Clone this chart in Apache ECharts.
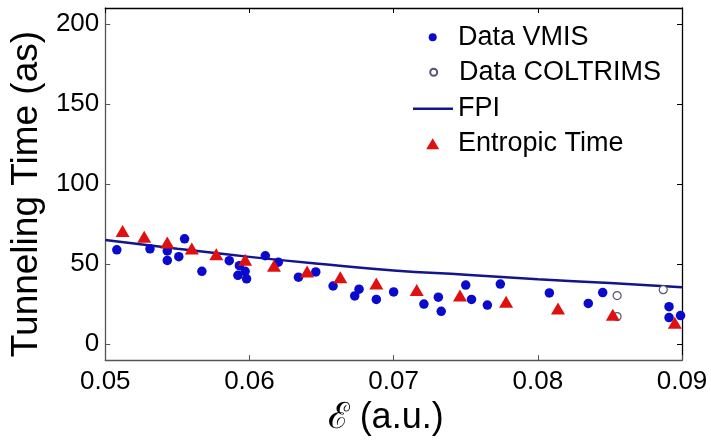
<!DOCTYPE html>
<html>
<head>
<meta charset="utf-8">
<script src="https://cdn.jsdelivr.net/npm/echarts@6.0.0/dist/echarts.min.js"></script>
<style>
  html, body { margin: 0; padding: 0; background: #fff; }
  #chart { width: 711px; height: 441px; }
</style>
</head>
<body>
<div id="chart"></div>
<script>
// field strength (a.u.) vs tunneling time (as)
const vmisX = [0.0508, 0.0531, 0.0543, 0.0543, 0.0551, 0.0555, 0.0567, 0.0586, 0.0593, 0.0592, 0.0597, 0.0598,
  0.0611, 0.0620, 0.0634, 0.0646, 0.0658, 0.0673, 0.0676, 0.0688, 0.0700, 0.0721, 0.0731, 0.0733,
  0.0750, 0.0754, 0.0765, 0.0774, 0.0808, 0.0835, 0.0845, 0.0891, 0.0891, 0.0899];
const vmisY = [58.9, 59.5, 58.2, 52.3, 54.6, 65.8, 45.5, 52.1, 49.0, 43.0, 45.5, 40.8,
  55.2, 51.2, 41.8, 45.1, 36.3, 30.1, 34.3, 27.9, 32.6, 25.0, 29.3, 20.5,
  36.9, 27.9, 24.4, 37.5, 32.0, 25.4, 32.2, 23.4, 16.6, 17.8];

const coltX = [0.0855, 0.0855, 0.0887];
const coltY = [30.3, 17.2, 34.0];

const fpiX = [0.050, 0.055, 0.060, 0.065, 0.070, 0.075, 0.080, 0.085, 0.090];
const fpiY = [65.0, 59.6, 54.5, 50.0, 46.0, 43.3, 40.5, 38.2, 35.5];

const entX = [0.0512, 0.0527, 0.0543, 0.0560, 0.0577, 0.0597, 0.0617, 0.0640,
  0.0663, 0.0688, 0.0716, 0.0746, 0.0778, 0.0814, 0.0852, 0.0895];
const entY = [70.7, 67.0, 63.5, 59.7, 56.1, 52.7, 49.0, 45.3,
  41.8, 37.9, 33.8, 30.3, 26.4, 22.3, 18.3, 13.3];

const xTicks = [0.05, 0.06, 0.07, 0.08, 0.09];
const yTicks = [0, 50, 100, 150, 200];

const font = "'Liberation Sans', Arial, sans-serif";
const zip = (xs, ys) => xs.map((x, i) => [x, ys[i]]);

// one legend per row so every icon can have its own size; text starts at x=458
function legendItem(name, icon, cx, cy, w, h) {
  const left = cx - w / 2;
  const pad = 458 - (left + w + 5);
  return {
    data: [{ name: name, icon: icon }],
    left: left, top: cy - 13,
    padding: 0, itemGap: 0,
    itemWidth: w, itemHeight: h,
    selectedMode: false,
    textStyle: { fontSize: 27, fontFamily: font, color: '#000', padding: [0, 0, 0, Math.max(pad, 0)] }
  };
}

function sideAxis(pos, min, max, ticks, color) {
  return {
    type: 'value', position: pos, min: min, max: max,
    axisLine: { show: true, onZero: false, lineStyle: { color: color, width: 1.3 } },
    axisTick: { show: true, inside: true, length: 5, customValues: ticks, lineStyle: { color: color } },
    axisLabel: { show: false },
    splitLine: { show: false }
  };
}

const chart = echarts.init(document.getElementById('chart'));
chart.setOption({
  animation: false,
  backgroundColor: '#fff',
  grid: { left: 104, right: 29, top: 8, bottom: 75 },
  legend: [
    legendItem('Data VMIS', 'circle', 432.7, 36.7, 8, 8),
    legendItem('Data COLTRIMS', 'circle', 432.7, 71.7, 7, 7),
    legendItem('FPI', 'rect', 433, 108.3, 40, 2.5),
    legendItem('Entropic Time', 'triangle', 432.7, 143.3, 13, 11)
  ],
  xAxis: [
    {
      type: 'value', position: 'bottom', min: 0.05, max: 0.09,
      axisLine: { show: true, onZero: false, lineStyle: { color: '#555', width: 1.3 } },
      axisTick: { show: true, inside: true, length: 5, customValues: xTicks, lineStyle: { color: '#555' } },
      axisLabel: {
        customValues: xTicks, margin: 9, fontSize: 26, fontFamily: font, color: '#000',
        formatter: v => v.toFixed(2)
      },
      splitLine: { show: false },
      name: 'ℰ (a.u.)', nameLocation: 'middle', nameGap: 28,
      nameTextStyle: { fontSize: 36, fontFamily: font, color: '#000', padding: [0, 16, 0, 0] }
    },
    sideAxis('top', 0.05, 0.09, xTicks, '#000')
  ],
  yAxis: [
    {
      type: 'value', position: 'left', min: -10, max: 210,
      axisLine: { show: true, onZero: false, lineStyle: { color: '#555', width: 1.3 } },
      axisTick: { show: true, inside: true, length: 5, customValues: yTicks, lineStyle: { color: '#555' } },
      axisLabel: { customValues: yTicks, margin: 6, fontSize: 26, fontFamily: font, color: '#000' },
      splitLine: { show: false },
      name: 'Tunneling Time (as)', nameLocation: 'middle', nameGap: 56,
      nameTextStyle: { fontSize: 37, fontFamily: font, color: '#000', padding: [0, 20, 0, 0] }
    },
    sideAxis('right', -10, 210, yTicks, '#000')
  ],
  series: [
    {
      name: 'FPI', type: 'line', data: zip(fpiX, fpiY), smooth: true,
      symbol: 'none', z: 2,
      lineStyle: { color: '#14148c', width: 2.5 },
      itemStyle: { color: '#14148c' }
    },
    {
      name: 'Data VMIS', type: 'scatter', data: zip(vmisX, vmisY),
      symbol: 'circle', symbolSize: 9.5, z: 3,
      itemStyle: { color: '#0a0acc', opacity: 1 }
    },
    {
      name: 'Data COLTRIMS', type: 'scatter', data: zip(coltX, coltY),
      symbol: 'circle', symbolSize: 8, z: 3,
      itemStyle: { color: '#fff', borderColor: '#555570', borderWidth: 1.2, opacity: 1 }
    },
    {
      name: 'Entropic Time', type: 'scatter', data: zip(entX, entY),
      symbol: 'triangle', symbolSize: [14, 12], z: 4,
      itemStyle: { color: '#e01010', opacity: 1 }
    }
  ]
});
</script>
</body>
</html>
